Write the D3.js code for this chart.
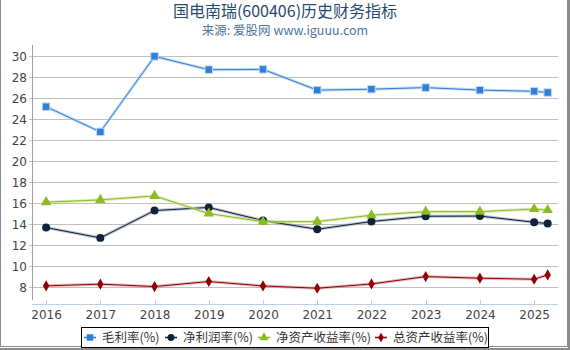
<!DOCTYPE html>
<html><head><meta charset="utf-8">
<script src="https://cdn.jsdelivr.net/npm/d3@7"></script>
<style>
html,body{margin:0;padding:0;background:#fff;}
svg{display:block;}
</style></head>
<body>
<svg id="c" width="570" height="350"></svg>
<script>
const years = [2016, 2017, 2018, 2019, 2020, 2021, 2022, 2023, 2024, 2025, 2025.25];
const tickYears = [2016, 2017, 2018, 2019, 2020, 2021, 2022, 2023, 2024, 2025];
const yTicks = [8, 10, 12, 14, 16, 18, 20, 22, 24, 26, 28, 30];
const seriesNames = ["毛利率(%)", "净利润率(%)", "净资产收益率(%)", "总资产收益率(%)"];
const grossMargin = [25.2, 22.8, 30.0, 28.73, 28.76, 26.78, 26.87, 27.02, 26.78, 26.67, 26.55];
const netMargin = [13.68, 12.7, 15.3, 15.6, 14.35, 13.52, 14.26, 14.76, 14.78, 14.19, 14.06];
const roe = [16.1, 16.32, 16.7, 15.02, 14.24, 14.25, 14.86, 15.2, 15.2, 15.45, 15.35];
const roa = [8.13, 8.29, 8.06, 8.54, 8.12, 7.9, 8.31, 9.01, 8.86, 8.76, 9.17];

const colors = ["#2f7ed8", "#0d233a", "#8bbc21", "#910000"];
const halos = ["#9cc3ee", "#8a98a8", "#c6e08c", "#d09090"];
const symbols = [d3.symbolSquare, d3.symbolCircle, d3.symbolTriangle, d3.symbolDiamond];
const symSizes = [56, 50, 48, 36];
const data = [grossMargin, netMargin, roe, roa];

(function () {
const svg = d3.select("#c");

// frame
svg.append("rect").attr("x", 0.5).attr("y", -2).attr("width", 567).attr("height", 348.5)
  .attr("fill", "none").attr("stroke", "#8c8c8c").attr("stroke-width", 1);
svg.append("line").attr("x1", 569).attr("x2", 569).attr("y1", 0).attr("y2", 350).attr("stroke", "#8c8c8c").attr("stroke-width", 2);
svg.append("line").attr("x1", 0).attr("x2", 570).attr("y1", 349).attr("y2", 349).attr("stroke", "#8c8c8c").attr("stroke-width", 2);

// titles
svg.append("text").attr("x", 285).attr("y", 17).attr("text-anchor", "middle")
  .attr("font-family", "Noto Sans CJK SC, sans-serif").attr("font-size", 16).attr("fill", "#274b6d")
  .text("国电南瑞(600406)历史财务指标");
svg.append("text").attr("x", 285).attr("y", 35).attr("text-anchor", "middle")
  .attr("font-family", "Noto Sans CJK SC, sans-serif").attr("font-size", 12.5).attr("fill", "#4d759e")
  .text("来源: 爱股网 www.iguuu.com");

const pL = 32, pR = 558, pT = 45, pB = 300;
const x = d3.scaleLinear().domain([2015.74, 2025.44]).range([pL, pR]);
const y = d3.scaleLinear().domain([6.78, 31.08]).range([pB, pT]);

// gridlines
svg.append("g").selectAll("line").data(yTicks).join("line")
  .attr("x1", pL - 3).attr("x2", pR)
  .attr("y1", d => Math.round(y(d)) + 0.5).attr("y2", d => Math.round(y(d)) + 0.5)
  .attr("stroke", "#c0c0c0").attr("stroke-width", 1);

// y axis
const yAxis = d3.axisLeft(y).tickValues(yTicks).tickSize(0).tickPadding(5);
const gy = svg.append("g").attr("transform", `translate(${pL},0)`).call(yAxis);
gy.select(".domain").remove();
gy.selectAll("text").attr("font-family", "DejaVu Sans, sans-serif").attr("font-size", 12).attr("fill", "#444");
svg.append("line").attr("x1", pL + 0.5).attr("x2", pL + 0.5).attr("y1", pT).attr("y2", pB)
  .attr("stroke", "#a0a0a0");

// x axis
const xAxis = d3.axisBottom(x).tickValues(tickYears).tickFormat(d3.format("d")).tickSize(0).tickPadding(6);
const gx = svg.append("g").attr("transform", `translate(0,304)`).call(xAxis);
gx.select(".domain").remove();
gx.selectAll("text").attr("font-family", "DejaVu Sans, sans-serif").attr("font-size", 12).attr("fill", "#444");
svg.append("line").attr("x1", pL).attr("x2", pR).attr("y1", 304.5).attr("y2", 304.5).attr("stroke", "#c0d0e0");
svg.append("g").selectAll("line").data(tickYears).join("line")
  .attr("x1", d => Math.round(x(d)) + 0.5).attr("x2", d => Math.round(x(d)) + 0.5)
  .attr("y1", 300).attr("y2", 304).attr("stroke", "#c0d0e0");

// series
const line = d3.line().x((d, i) => x(years[i])).y(d => y(d));
data.forEach((vals, k) => {
  const g = svg.append("g");
  g.append("path").attr("d", line(vals)).attr("fill", "none").attr("stroke", halos[k])
    .attr("stroke-width", 3).attr("stroke-opacity", 0.6);
  g.append("path").attr("d", line(vals)).attr("fill", "none").attr("stroke", colors[k]).attr("stroke-width", 1);
  g.selectAll("path.m").data(vals).join("path").attr("class", "m")
    .attr("d", d3.symbol().type(symbols[k]).size(symSizes[k]))
    .attr("transform", (d, i) => `translate(${x(years[i])},${y(d)})`)
    .attr("fill", colors[k]).attr("stroke", k === 0 ? "#bcd8f4" : "none").attr("stroke-width", 1);
});

// legend
svg.append("rect").attr("x", 81.5).attr("y", 327.5).attr("width", 407).attr("height", 20)
  .attr("fill", "#fff").attr("stroke", "#000").attr("stroke-width", 1);
const legX = [84, 165, 258, 375];
const leg = svg.append("g");
seriesNames.forEach((name, k) => {
  const lx = legX[k];
  leg.append("line").attr("x1", lx).attr("x2", lx + 12).attr("y1", 337.5).attr("y2", 337.5)
    .attr("stroke", halos[k]).attr("stroke-width", 3).attr("stroke-opacity", 0.6);
  leg.append("line").attr("x1", lx).attr("x2", lx + 12).attr("y1", 337.5).attr("y2", 337.5)
    .attr("stroke", colors[k]).attr("stroke-width", 1);
  leg.append("path").attr("d", d3.symbol().type(symbols[k]).size(symSizes[k] * 0.75))
    .attr("transform", `translate(${lx + 6},337.5)`).attr("fill", colors[k]);
  leg.append("text").attr("x", lx + 18).attr("y", 342)
    .attr("font-family", "Noto Sans CJK SC, sans-serif").attr("font-size", 12.5).attr("fill", "#333")
    .text(name);
});
})();
</script>
</body></html>
